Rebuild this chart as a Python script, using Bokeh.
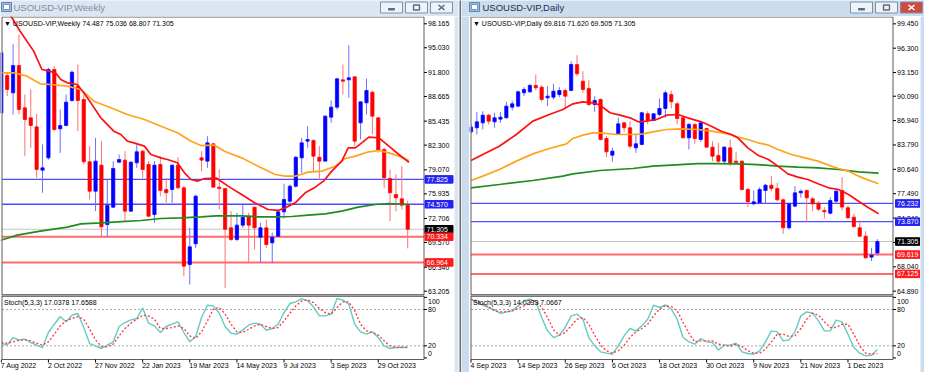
from bokeh.plotting import figure
from bokeh.models import Range1d, ColumnDataSource
from bokeh.layouts import row, column
from bokeh.embed import file_html
from bokeh.resources import INLINE
from bokeh.core.properties import value

FONT = "Liberation Sans"

# ---------------- weekly data ----------------
wk_open = [86.52, 91.41, 89.14, 92.71, 87.18, 85.87, 84.69, 79.03, 80.64, 92.19,
           84.43, 84.87, 88.14, 90.01, 88.27, 80.12, 76.28, 79.68, 71.92, 74.19,
           80.07, 80.34, 73.67, 79.99, 81.51, 79.77, 73.23, 79.77, 76.50, 76.50,
           79.68, 76.72, 66.70, 69.40, 80.64, 80.21, 82.47, 76.81, 76.63, 71.49,
           69.97, 71.84, 73.01, 74.19, 70.27, 71.49, 69.53, 70.40, 73.58, 74.97,
           76.94, 80.64, 82.82, 82.91, 80.73, 80.21, 85.96, 87.27, 90.84, 90.84,
           91.23, 85.22, 87.83, 89.23, 85.87, 81.73, 77.94, 75.85, 75.28, 74.487]
wk_high = [94.59, 91.76, 95.55, 96.77, 88.92, 89.58, 86.39, 82.39, 92.41, 92.63,
           86.96, 88.92, 92.06, 92.85, 88.92, 82.17, 83.26, 82.82, 77.81, 80.21,
           81.08, 81.51, 80.21, 82.39, 81.73, 80.21, 80.21, 80.86, 78.03, 79.77,
           80.73, 76.94, 71.49, 75.85, 81.51, 83.47, 82.60, 79.12, 76.72, 73.67,
           73.45, 74.54, 73.45, 74.32, 72.15, 72.58, 70.84, 73.67, 77.25, 77.16,
           80.86, 83.26, 84.78, 83.04, 82.17, 86.22, 88.14, 91.10, 92.85, 95.37,
           91.32, 88.05, 91.01, 89.44, 85.96, 81.95, 79.12, 78.46, 79.55, 75.036]
wk_low = [86.31, 88.70, 86.31, 86.31, 80.86, 81.95, 78.03, 76.07, 80.40, 84.13,
          81.29, 84.78, 87.96, 84.13, 79.77, 75.19, 73.67, 70.18, 70.27, 74.10,
          79.99, 72.36, 73.58, 79.33, 78.03, 72.88, 72.15, 75.63, 74.76, 74.76,
          76.50, 65.17, 64.08, 68.87, 78.90, 79.33, 76.72, 73.89, 63.65, 69.75,
          69.75, 71.49, 66.91, 68.66, 66.91, 68.87, 66.91, 70.27, 72.71, 74.32,
          76.72, 78.68, 81.95, 78.90, 77.81, 80.21, 85.22, 86.96, 88.92, 88.49,
          82.17, 83.04, 86.31, 83.69, 81.29, 76.72, 72.36, 73.67, 73.89, 68.807]
wk_close = [94.37, 89.58, 92.71, 86.96, 85.65, 84.87, 79.12, 79.33, 92.19, 84.35,
            84.87, 87.92, 91.84, 88.14, 80.12, 76.28, 80.21, 71.62, 74.45, 79.25,
            80.42, 73.67, 80.07, 81.43, 79.12, 73.01, 79.68, 76.37, 76.07, 79.68,
            76.72, 66.48, 69.01, 75.63, 80.34, 82.60, 76.81, 76.63, 71.30, 69.97,
            71.84, 72.88, 71.84, 71.49, 71.49, 69.31, 70.27, 73.58, 75.19, 76.94,
            80.73, 82.60, 83.04, 80.86, 80.21, 86.09, 87.27, 90.97, 90.67, 91.10,
            82.82, 87.96, 89.44, 86.09, 81.64, 78.03, 76.07, 75.41, 74.45, 71.305]

wk_ma_red_x = [1.0, 1.8, 3.2, 5.5, 6.9, 8.1, 9.2, 10.1, 11.2, 12.9, 14.0, 15.2, 16.9, 19.1, 20.3,
               21.4, 22.5, 24.3, 25.4, 27.1, 28.2, 29.9, 31.1, 32.2, 33.3, 34.5, 36.5, 38.5,
               40.8, 43.0, 45.3, 47.0, 48.2, 49.9, 51.6, 53.3, 54.7, 56.1, 57.8, 58.9, 60.1,
               61.2, 62.4, 64.1, 65.8, 67.5, 69.2]
wk_ma_red = [99.80, 98.95, 97.20, 94.59, 92.19, 91.97, 91.76, 90.88, 90.45, 90.23, 89.14, 87.83,
             85.87, 84.13, 83.69, 82.82, 82.60, 82.17, 81.08, 80.64, 80.42, 79.99, 78.68, 77.81,
             77.59, 77.94, 78.00, 76.94, 75.85, 74.76, 73.89, 73.76, 74.10, 74.76, 76.07, 76.81,
             77.59, 78.90, 80.21, 81.95, 81.95, 82.60, 83.34, 83.26, 82.17, 81.08, 80.07]
wk_ma_orange_x = [-0.2, 2.1, 4.4, 6.6, 8.4, 11.2, 13.5, 15.7, 18.6, 21.4, 24.3, 27.1, 29.9, 32.2,
                  33.9, 36.2, 37.9, 40.8, 43.6, 46.5, 48.2, 49.9, 52.1, 54.4, 56.7, 58.4, 60.1,
                  62.4, 64.1, 65.8, 67.5, 69.2]
wk_ma_orange = [91.76, 91.76, 91.32, 90.32, 90.23, 90.01, 89.58, 88.05, 87.18, 86.31, 85.65,
                84.78, 83.91, 82.82, 82.25, 82.30, 81.51, 80.64, 79.55, 78.46, 78.24, 78.24,
                78.77, 78.90, 79.55, 80.55, 80.86, 81.43, 81.60, 81.29, 80.86, 80.29]
wk_ma_green_x = [-0.2, 2.7, 6.6, 11.2, 13.5, 16.9, 19.7, 23.7, 27.1, 30.5, 33.9, 36.5, 40.8, 43.6,
                 46.5, 49.3, 52.1, 55.0, 57.8, 60.6, 63.5, 65.8, 69.2]
wk_ma_green = [69.83, 70.53, 71.05, 71.58, 72.01, 72.14, 72.27, 72.45, 72.71, 72.80, 72.93,
               73.06, 73.06, 72.93, 72.93, 72.97, 73.15, 73.32, 73.67, 74.19, 74.54, 74.67, 74.54]

wk_stoch_k = [24.4, 21.1, 33.7, 29.9, 31.0, 25.5, 21.1, 17.2, 42.0, 55.7, 68.4, 59.6, 70.6, 73.4,
              50.2, 23.8, 20.0, 15.6, 21.1, 26.6, 51.9, 58.5, 62.9, 65.1, 82.7, 57.4, 53.0, 42.0,
              51.9, 55.7, 59.6, 42.0, 26.6, 35.4, 66.8, 87.1, 86.0, 73.9, 51.9, 40.9, 39.2, 46.4,
              54.1, 57.4, 55.7, 45.8, 48.6, 55.7, 75.0, 89.9, 92.6, 98.1, 94.3, 84.4, 69.5, 69.5,
              72.3, 98.1, 95.4, 88.8, 55.7, 43.1, 39.2, 43.1, 33.7, 20.0, 15.6, 17.2, 17.8, 17.04]
wk_stoch_d = [25.5, 24.4, 26.6, 29.3, 29.9, 28.2, 24.4, 21.1, 26.6, 39.2, 53.0, 61.2, 65.1, 68.4,
              64.0, 47.5, 29.9, 18.9, 18.3, 22.7, 36.5, 48.6, 57.4, 64.0, 70.6, 69.5, 64.0, 48.6,
              48.6, 50.2, 53.0, 48.6, 36.5, 32.1, 43.1, 61.2, 80.5, 83.3, 72.3, 55.7, 43.1, 42.0,
              47.5, 53.0, 55.7, 51.9, 48.6, 50.2, 61.2, 73.9, 86.0, 94.3, 95.9, 91.5, 81.6, 75.0,
              72.3, 83.3, 92.6, 92.6, 77.8, 55.7, 44.7, 42.0, 37.6, 28.2, 20.0, 17.2, 17.2, 17.66]

wk_price_ticks = [98.165, 95.030, 91.800, 88.665, 85.435, 82.300, 79.070, 75.935, 72.706,
                  69.570, 66.340, 63.205]
wk_levels = [77.825, 74.570, 71.305, 70.334, 66.964]
wk_level_kind = ["blue", "blue", "price", "red", "red"]
wk_date_idx = [0, 8, 16, 24, 32, 40, 48, 56, 64]
wk_dates = ["7 Aug 2022", "2 Oct 2022", "27 Nov 2022", "22 Jan 2023", "19 Mar 2023",
            "14 May 2023", "9 Jul 2023", "3 Sep 2023", "29 Oct 2023"]

# ---------------- daily data ----------------
dy_open = [85.49, 86.01, 86.65, 87.64, 86.78, 87.13, 87.30, 88.68, 88.81, 90.53,
           90.66, 91.48, 91.26, 89.88, 89.97, 90.30, 90.83, 90.83, 94.19, 92.04,
           91.09, 89.02, 89.67, 84.63, 82.47, 85.23, 86.65, 86.01, 83.42, 83.85,
           87.82, 86.95, 87.73, 88.51, 90.30, 89.11, 87.30, 84.71, 86.44, 84.50,
           85.92, 83.51, 82.43, 81.70, 83.42, 81.70, 81.70, 78.03, 76.18, 76.31,
           77.91, 78.59, 78.16, 76.70, 73.08, 75.88, 77.60, 77.91, 76.83, 76.27,
           75.32, 74.97, 76.52, 77.91, 75.67, 74.46, 73.08, 72.00, 69.29, 69.816]
dy_high = [86.44, 88.07, 88.16, 87.82, 87.95, 88.07, 89.37, 89.54, 90.83, 91.26,
           91.69, 92.90, 91.52, 91.39, 91.69, 91.26, 91.09, 94.62, 95.40, 93.33,
           92.19, 90.10, 89.80, 84.93, 83.42, 87.30, 86.78, 86.87, 85.23, 88.07,
           88.16, 87.90, 89.80, 90.83, 90.83, 89.37, 87.51, 86.65, 86.65, 86.78,
           86.01, 84.28, 84.07, 83.63, 84.50, 82.90, 81.78, 78.25, 77.91, 78.33,
           78.77, 79.76, 78.90, 76.87, 76.31, 78.46, 78.03, 78.03, 77.04, 76.52,
           75.76, 77.04, 78.16, 79.63, 76.01, 74.89, 74.03, 72.65, 70.49, 71.620]
dy_low = [85.23, 85.14, 85.79, 86.44, 86.01, 86.65, 87.21, 88.25, 88.68, 90.10,
          90.53, 90.83, 89.37, 88.81, 89.67, 89.97, 88.51, 90.75, 92.69, 90.53,
          88.81, 88.07, 84.37, 82.21, 81.61, 85.14, 85.49, 83.33, 82.77, 83.76,
          86.44, 86.87, 87.51, 87.30, 88.51, 86.44, 84.63, 83.21, 83.94, 84.19,
          83.42, 81.70, 81.48, 81.26, 81.05, 81.35, 77.91, 75.76, 76.01, 76.18,
          76.18, 77.82, 76.52, 72.30, 72.86, 75.76, 76.96, 73.85, 75.23, 75.23,
          74.29, 74.80, 76.31, 75.32, 74.29, 73.08, 71.87, 69.11, 68.77, 69.505]
dy_close = [86.09, 86.78, 87.64, 86.87, 87.30, 87.38, 88.81, 89.11, 90.66, 90.96,
            91.48, 91.18, 89.67, 90.10, 90.75, 90.83, 90.10, 94.19, 92.99, 90.96,
            89.02, 89.54, 84.50, 82.90, 82.99, 86.52, 86.01, 83.63, 83.94, 87.95,
            86.95, 87.82, 88.51, 90.53, 89.37, 87.21, 84.71, 86.44, 84.63, 86.65,
            83.51, 82.34, 81.70, 83.51, 81.48, 81.52, 78.03, 76.44, 76.44, 78.03,
            78.59, 78.16, 76.70, 73.08, 76.18, 77.60, 77.82, 76.96, 76.18, 75.49,
            75.15, 76.61, 77.82, 75.76, 74.37, 73.25, 72.00, 69.20, 69.54, 71.305]

dy_ma_red_x = [0.0, 2.0, 4.8, 7.7, 10.5, 13.3, 15.6, 17.3, 19.0, 20.7, 21.9, 23.6, 25.3, 27.0,
               28.4, 29.8, 31.5, 33.2, 35.1, 36.8, 39.1, 40.8, 42.5, 44.2, 45.3, 47.0, 48.7,
               50.5, 52.1, 53.8, 55.5, 57.2, 58.9, 60.7, 62.4, 64.1, 65.8, 67.5, 69.2]
dy_ma_red = [81.78, 82.56, 83.63, 85.14, 86.87, 87.73, 88.38, 89.11, 89.37, 89.24, 88.94, 87.95,
             87.64, 87.30, 86.78, 86.87, 87.08, 87.64, 87.73, 87.30, 86.78, 86.22, 85.57, 85.14,
             84.71, 83.42, 82.47, 81.91, 81.05, 80.06, 79.63, 79.33, 78.77, 78.25, 78.03, 77.39,
             76.52, 75.67, 74.89]
dy_ma_orange_x = [0.0, 2.0, 4.8, 7.7, 10.5, 13.3, 16.2, 17.3, 19.0, 20.7, 21.9, 24.7, 27.5, 29.2,
                  30.9, 33.2, 35.5, 38.5, 40.8, 43.6, 45.3, 47.0, 48.7, 50.5, 52.1, 54.4, 56.7,
                  58.9, 60.7, 62.4, 64.1, 65.8, 67.5, 69.2]
dy_ma_orange = [79.20, 79.76, 80.62, 81.70, 82.64, 83.33, 83.94, 84.63, 85.06, 85.36, 85.36,
                85.14, 85.14, 85.23, 85.49, 85.79, 85.88, 85.79, 85.57, 85.23, 84.80, 84.50,
                84.07, 83.76, 83.21, 82.56, 82.13, 81.70, 81.18, 80.75, 80.40, 79.76, 79.24, 78.77]
dy_ma_green_x = [0.0, 4.8, 10.5, 15.6, 17.3, 21.9, 27.5, 30.9, 35.5, 38.5, 41.9, 45.3, 48.7,
                 52.1, 55.5, 58.9, 62.4, 65.8, 69.2]
dy_ma_green = [78.25, 78.68, 79.20, 79.76, 80.06, 80.49, 80.75, 81.05, 81.26, 81.39, 81.39,
               81.35, 81.26, 81.05, 80.92, 80.83, 80.62, 80.32, 80.14]

dy_stoch_k = [97.0, 91.5, 87.1, 83.3, 79.4, 73.4, 76.1, 77.8, 86.0, 94.3, 97.0, 92.6, 66.8, 44.7,
              33.7, 37.6, 50.2, 69.5, 72.3, 64.0, 33.7, 20.0, 10.1, 7.9, 6.2, 20.0, 36.5, 48.6,
              44.7, 53.0, 64.0, 87.1, 83.3, 87.7, 80.5, 64.0, 33.7, 26.6, 22.7, 32.1, 26.6, 25.5,
              12.8, 21.1, 21.1, 24.4, 10.1, 7.3, 6.2, 11.7, 26.6, 44.7, 43.1, 28.2, 29.9, 43.1,
              69.5, 76.1, 73.9, 61.2, 44.7, 44.7, 62.4, 59.6, 39.2, 17.2, 7.9, 3.4, 4.5, 14.03]
dy_stoch_d = [97.0, 94.3, 88.8, 84.4, 77.8, 76.1, 76.1, 77.8, 81.6, 86.0, 91.5, 94.3, 83.3, 66.8,
              46.4, 37.6, 42.0, 53.0, 64.0, 66.8, 55.7, 37.6, 21.1, 11.7, 7.9, 11.7, 21.1, 33.7,
              43.1, 48.6, 55.7, 69.5, 80.5, 86.0, 84.9, 77.8, 58.5, 40.9, 26.6, 28.2, 28.2, 28.2,
              22.7, 21.1, 18.9, 22.7, 18.9, 11.7, 7.9, 7.9, 14.5, 26.6, 39.2, 39.2, 35.4, 36.5,
              48.6, 64.0, 73.9, 70.6, 59.6, 50.2, 50.2, 55.7, 55.7, 39.2, 20.0, 7.9, 6.2, 7.07]

dy_price_ticks = [99.450, 96.300, 93.150, 90.090, 86.940, 83.790, 80.640, 77.490, 74.340,
                  71.190, 68.040, 64.890]
dy_levels = [76.232, 73.870, 71.305, 69.619, 67.125]
dy_level_kind = ["blue", "blue", "price", "red", "red"]
dy_date_idx = [0, 8, 16, 24, 32, 40, 48, 56, 64]
dy_dates = ["4 Sep 2023", "14 Sep 2023", "26 Sep 2023", "6 Oct 2023", "18 Oct 2023",
            "30 Oct 2023", "9 Nov 2023", "21 Nov 2023", "1 Dec 2023"]

stoch_levels = [20, 80]
stoch_ticks = [100, 80, 20, 0]
stoch_tick_labels = ["100", "80", "20", "0"]

# ---------------- styling / geometry (page pixels) ----------------
BAR_PX = 5.89
STOCH_Y80, STOCH_PPU = 317.0, 0.6055          # page y of level 80, px per stoch unit
STOCH_LABEL_Y = [308.7, 317.0, 353.3, 360.7]   # where MT4 prints the stoch scale labels
LEVEL_STYLE = {"blue": ("#4d4dff", 1.3, "#2323f5"),
               "red": ("#ff6b6b", 2.0, "#ff1a1a"),
               "price": ("#c4c4c4", 1.0, "#000000")}
BOX = "#5c5c5c"
TXT = dict(text_font=value(FONT), text_font_size="7px", text_baseline="middle",
           text_align="left")


def strip(w, h, color):
    f = figure(width=w, height=h, toolbar_location=None, output_backend="svg",
               x_axis_location=None, y_axis_location=None, min_border=0,
               x_range=Range1d(0, 1), y_range=Range1d(0, 1))
    f.background_fill_color = color
    f.border_fill_color = color
    f.outline_line_color = None
    f.xgrid.visible = False
    f.ygrid.visible = False
    return f


def bare(width, height, xr, yr):
    f = figure(width=width, height=height, x_range=xr, y_range=yr, toolbar_location=None,
               output_backend="svg", min_border=0, x_axis_location=None, y_axis_location=None)
    f.background_fill_color = "white"
    f.border_fill_color = "white"
    f.outline_line_color = None
    f.xgrid.visible = False
    f.ygrid.visible = False
    return f


def title_bar(w, title, chrome, tcolor, icon_x, text_x, btn_lefts, active):
    t = figure(width=w, height=16, x_range=Range1d(0, w), y_range=Range1d(0, 16),
               toolbar_location=None, output_backend="svg", min_border=0,
               x_axis_location=None, y_axis_location=None)
    t.background_fill_color = chrome
    t.border_fill_color = chrome
    t.outline_line_color = None
    t.xgrid.visible = False
    t.ygrid.visible = False
    t.quad(left=[icon_x], right=[icon_x + 10], top=[14], bottom=[5],
           fill_color="#9dbbe0", line_color="#5f84b4")
    t.quad(left=[icon_x + 2], right=[icon_x + 8], top=[12], bottom=[7],
           fill_color="#ffffff", line_color="#5f84b4", line_width=0.8)
    t.text(x=[text_x], y=[9.5], text=[title], text_font=value(FONT), text_font_size="9.5px",
           text_color=tcolor, text_baseline="middle")
    bw = 22
    fills = ["#eef3f9", "#eef3f9", "#cf4a3f" if active else "#eef3f9"]
    t.quad(left=btn_lefts, right=[b + bw for b in btn_lefts], top=[14.5] * 3, bottom=[3.5] * 3,
           fill_color=fills, line_color="#7f90a6")
    b0, b1, b2 = btn_lefts
    sym = "#5a6a80"
    t.quad(left=[b0 + 8], right=[b0 + 14], top=[8], bottom=[6.5], fill_color=sym, line_color=sym)
    t.quad(left=[b1 + 8], right=[b1 + 14], top=[11.5], bottom=[6.5], fill_color=None,
           line_color=sym, line_width=1.4)
    xc = "#ffffff" if active else sym
    t.segment(x0=[b2 + 8, b2 + 8], y0=[11.5, 6.5], x1=[b2 + 14, b2 + 14], y1=[6.5, 11.5],
              line_color=xc, line_width=1.6)
    return t


def chart_panels(cfg):
    b0 = cfg["bar0"]

    def ix(px):
        return (px - b0) / BAR_PX

    def pr(py):
        return cfg["p_ref"] - (py - cfg["y_ref"]) * cfg["ppp"]

    def st(py):
        return 80 - (py - STOCH_Y80) / STOCH_PPU

    fx0, fx1, bx0, bx1 = cfg["fx0"], cfg["fx1"], cfg["bx0"], cfg["bx1"]
    W = fx1 - fx0
    o, h, l, c = cfg["ohlc"]

    # ---------- price pane (page y 24 .. 303) ----------
    p = bare(W, 279, Range1d(ix(fx0), ix(fx1)), Range1d(pr(303), pr(24)))
    L, R = ix(bx0), ix(bx1)
    for v, kind in zip(cfg["levels"], cfg["kinds"]):
        col, lw, _ = LEVEL_STYLE[kind]
        p.segment(x0=[L], y0=[v], x1=[R], y1=[v], line_color=col, line_width=lw)

    idx = list(range(len(o)))
    up = [cc >= oo for oo, cc in zip(o, c)]
    src = ColumnDataSource(dict(
        x=idx, h=h, l=l,
        top=[max(a, b) for a, b in zip(o, c)],
        bot=[min(a, b) for a, b in zip(o, c)],
        bc=["#0000ff" if u else "#ff0000" for u in up],
        wc=["#6f6fff" if u else "#ff6f6f" for u in up]))
    p.segment(x0="x", y0="l", x1="x", y1="h", line_color="wc", line_width=1, source=src)
    p.vbar(x="x", width=0.56, top="top", bottom="bot", fill_color="bc", line_color="bc",
           line_width=0.7, source=src)

    p.line(cfg["ma_green"][0], cfg["ma_green"][1], line_color="#1f8c1f", line_width=1.7)
    p.line(cfg["ma_orange"][0], cfg["ma_orange"][1], line_color="#ffa41c", line_width=1.7)
    p.line(cfg["ma_red"][0], cfg["ma_red"][1], line_color="#ff1010", line_width=1.7)

    # masks outside the chart box, then the box itself
    p.quad(left=[ix(fx0)], right=[L], bottom=[pr(303)], top=[pr(24)], fill_color="white",
           line_color=None)
    p.quad(left=[R], right=[ix(fx1)], bottom=[pr(303)], top=[pr(24)], fill_color="white",
           line_color=None)
    p.quad(left=[L], right=[R], bottom=[pr(24)], top=[pr(22)], fill_color="white", line_color=None)
    p.segment(x0=[L, L, R], y0=[pr(24.5), pr(24.5), pr(24.5)], x1=[R, L, R],
              y1=[pr(24.5), pr(303), pr(303)], line_color=BOX, line_width=1)
    p.segment(x0=[L], y0=[pr(303)], x1=[R], y1=[pr(303)], line_color="#4a4a4a", line_width=2.4)

    # price scale
    p.segment(x0=[R] * len(cfg["ticks"]), y0=cfg["ticks"], x1=[ix(bx1 + 3)] * len(cfg["ticks"]),
              y1=cfg["ticks"], line_color="#000000", line_width=1)
    p.text(x=[ix(bx1 + 4)] * len(cfg["ticks"]), y=cfg["ticks"],
           text=["%.3f" % t for t in cfg["ticks"]], text_color="#000000", **TXT)

    # level tags on the price scale
    tag_x0, tag_w = cfg["tag_x0"], cfg["tag_w"]
    for v, kind in zip(cfg["levels"], cfg["kinds"]):
        _, _, bg = LEVEL_STYLE[kind]
        p.rect(x=[ix(bx1 + tag_x0 + tag_w / 2.0)], y=[v], width=tag_w, height=7.5,
               width_units="screen", height_units="screen", fill_color=bg, line_color=bg)
        p.text(x=[ix(bx1 + tag_x0 + 1.5)], y=[v], text=["%.3f" % v], text_color="#ffffff", **TXT)

    p.text(x=[ix(bx0 + 2)], y=[pr(30.7)], text=[cfg["header"]], text_color="#000000", **TXT)

    # ---------- stochastic pane (page y 303 .. 380) ----------
    s = bare(W, 77, p.x_range, Range1d(st(380), st(303)))
    for lv in stoch_levels:
        s.segment(x0=[L], y0=[lv], x1=[R], y1=[lv], line_color="#a8a8a8", line_width=1,
                  line_dash="2 2")
    sidx = list(range(len(cfg["k"])))
    s.line(sidx, cfg["k"], line_color="#62cbc3", line_width=1.4)
    s.line(sidx, cfg["d"], line_color="#ff4040", line_width=1.4, line_dash="2 2")

    s.quad(left=[ix(fx0)], right=[L], bottom=[st(380)], top=[st(303)], fill_color="white",
           line_color=None)
    s.quad(left=[R], right=[ix(fx1)], bottom=[st(380)], top=[st(303)], fill_color="white",
           line_color=None)
    s.segment(x0=[L, L, R], y0=[st(367), st(303), st(303)], x1=[R, L, R],
              y1=[st(367), st(367), st(367)], line_color=BOX, line_width=1)
    s.segment(x0=[L], y0=[st(303)], x1=[R], y1=[st(303)], line_color="#4a4a4a", line_width=2.4)

    s.segment(x0=[R] * 4, y0=stoch_ticks, x1=[ix(bx1 + 3)] * 4, y1=stoch_ticks,
              line_color="#000000", line_width=1)
    s.text(x=[ix(bx1 + 4)] * 4, y=[st(yy) for yy in STOCH_LABEL_Y], text=stoch_tick_labels,
           text_color="#000000", **TXT)

    di = cfg["date_idx"]
    s.segment(x0=di, y0=[st(367)] * len(di), x1=di, y1=[st(370)] * len(di),
              line_color="#000000", line_width=1)
    s.text(x=[i - 0.08 for i in di], y=[st(373)] * len(di), text=cfg["dates"],
           text_color="#000000", **TXT)

    s.text(x=[ix(bx0 + 2)], y=[st(310)], text=[cfg["stoch_header"]], text_color="#000000", **TXT)
    return p, s


CHROME_L = "#dce6f2"
CHROME_R = "#cbdcef"

left_cfg = dict(
    bar0=8.8, fx0=8, fx1=462, bx0=9.5, bx1=431.5, tag_x0=1, tag_w=28,
    p_ref=98.165, y_ref=31.3, ppp=0.13074,
    ohlc=(wk_open, wk_high, wk_low, wk_close), ticks=wk_price_ticks,
    levels=wk_levels, kinds=wk_level_kind,
    ma_red=(wk_ma_red_x, wk_ma_red), ma_orange=(wk_ma_orange_x, wk_ma_orange),
    ma_green=(wk_ma_green_x, wk_ma_green),
    header="\u25bc USOUSD-VIP,Weekly  74.487 75.036 68.807 71.305",
    k=wk_stoch_k, d=wk_stoch_d, stoch_header="Stoch(5,3,3) 17.0378 17.6588",
    date_idx=wk_date_idx, dates=wk_dates)

right_cfg = dict(
    bar0=478.5, fx0=477, fx1=928, bx0=478.5, bx1=900.5, tag_x0=2.5, tag_w=25,
    p_ref=99.450, y_ref=31.33, ppp=0.129276,
    ohlc=(dy_open, dy_high, dy_low, dy_close), ticks=dy_price_ticks,
    levels=dy_levels, kinds=dy_level_kind,
    ma_red=(dy_ma_red_x, dy_ma_red), ma_orange=(dy_ma_orange_x, dy_ma_orange),
    ma_green=(dy_ma_green_x, dy_ma_green),
    header="\u25bc USOUSD-VIP,Daily  69.816 71.620 69.505 71.305",
    k=dy_stoch_k, d=dy_stoch_d, stoch_header="Stoch(5,3,3) 14.0333 7.0667",
    date_idx=dy_date_idx, dates=dy_dates)

pL, sL = chart_panels(left_cfg)
pR, sR = chart_panels(right_cfg)

BODY_H = 279 + 77

tL = title_bar(458, "USOUSD-VIP,Weekly", CHROME_L, "#7b8ca3", 1, 13, [380, 405, 430], False)
tR = title_bar(463, "USOUSD-VIP,Daily", CHROME_R, "#1d2e48", 8, 21, [389, 414, 439], True)

winL = column(tL, row(column(pL, sL), strip(4, BODY_H, CHROME_L)))
winR = column(tR, row(strip(8, BODY_H, CHROME_R), column(pR, sR), strip(4, BODY_H, CHROME_R)))
seam = row(strip(1, BODY_H + 16, CHROME_L), strip(2, BODY_H + 16, "#6e6e6e"))

layout = row(winL, seam, winR)

with open("out.html", "w") as fh:
    fh.write(file_html(layout, INLINE, "USOUSD-VIP"))
